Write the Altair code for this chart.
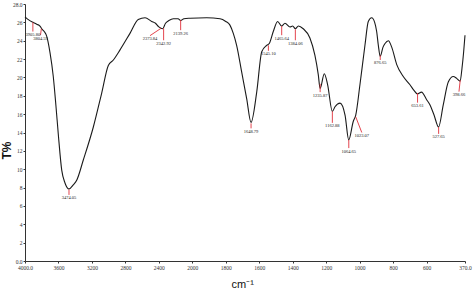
import altair as alt
import pandas as pd

# ---- spectrum (wavenumber cm-1, T%) ----
wavenumber = [4000, 3960, 3905, 3860, 3821, 3800, 3770, 3741, 3701, 3662, 3631, 3600,
              3561, 3522, 3474, 3423, 3382, 3303, 3183, 3083, 3004, 2944, 2864, 2745,
              2646, 2565, 2485, 2440, 2400, 2354, 2320, 2280, 2227, 2170, 2139, 2100,
              2027, 1914, 1834, 1800, 1775, 1755, 1735, 1705, 1675, 1649, 1615, 1585,
              1555, 1540, 1516, 1490, 1466, 1446, 1416, 1400, 1384, 1366, 1337, 1297,
              1267, 1247, 1236, 1211, 1191, 1163, 1147, 1117, 1087, 1065, 1038, 1023,
              998, 968, 948, 928, 910, 898, 888, 877, 860, 848, 828, 808, 778, 739,
              699, 675, 654, 630, 600, 579, 555, 528, 500, 470, 440, 420, 399, 388,
              378, 370]
transmittance = [26.6, 26.3, 26.0, 25.8, 25.6, 25.3, 25.0, 24.5, 22.7, 20.1, 17.0, 13.6,
                 9.9, 8.5, 7.85, 8.3, 8.8, 11.0, 14.6, 18.3, 21.3, 21.9, 23.0, 24.8,
                 26.3, 26.5, 26.1, 25.9, 25.5, 25.3, 25.9, 26.2, 26.4, 26.4, 26.2, 26.4,
                 26.45, 26.5, 26.4, 26.1, 25.7, 24.8, 23.5, 20.6, 17.7, 15.1, 18.4, 22.8,
                 23.5, 23.7, 25.0, 26.1, 25.6, 25.9, 25.5, 25.6, 25.3, 25.6, 25.3, 24.3,
                 22.4, 20.3, 18.8, 20.4, 19.2, 16.3, 16.8, 17.2, 15.9, 13.2, 15.2, 15.9,
                 19.2, 23.5, 26.1, 26.5, 26.0, 25.0, 23.5, 22.3, 23.3, 23.7, 24.0, 23.3, 21.4, 20.1,
                 19.2, 18.6, 18.2, 18.4, 17.6, 17.0, 15.9, 14.6, 17.0, 19.5, 20.1, 19.9, 19.6, 21.0,
                 22.8, 24.6]

# ---- peak annotations ----
peak_text = ["3905.80", "3804.59", "3474.05", "2373.84", "2342.92", "2139.26",
             "1648.79", "1545.10", "1465.64", "1384.06", "1235.87", "1162.88",
             "1064.65", "1023.07", "876.65", "653.61", "527.65", "398.66"]
peak_wn = [3905.80, 3804.59, 3474.05, 2373.84, 2342.92, 2139.26,
           1648.79, 1545.10, 1465.64, 1384.06, 1235.87, 1162.88,
           1064.65, 1023.07, 876.65, 653.61, 527.65, 398.66]
peak_T = [26.0, 25.3, 7.8, 25.35, 25.35, 26.25,
          15.0, 23.5, 25.6, 25.25, 19.3, 16.3,
          13.2, 15.7, 22.4, 18.3, 14.6, 19.7]
label_wn = [3905.80, 3815, 3474.05, 2506, 2342.92, 2139.26,
            1648.79, 1545.10, 1465.64, 1384.06, 1235.87, 1162.88,
            1064.65, 987, 876.65, 653.61, 527.65, 406]
label_T = [25.0, 24.6, 7.2, 24.55, 24.05, 25.15,
           14.45, 22.9, 24.6, 24.05, 18.4, 15.05,
           12.3, 14.0, 21.9, 17.25, 13.85, 18.45]

# ---- axis ticks ----
tick_wn = [4000, 3600, 3200, 2800, 2400, 2000, 1800, 1600, 1400, 1200, 1000, 800, 600, 370]
y_ticks = list(range(0, 29, 2))

spec = pd.DataFrame({"wn": wavenumber, "T": transmittance})
peaks = pd.DataFrame({"label": peak_text, "wn": peak_wn, "T": peak_T,
                      "lwn": label_wn, "lT": label_T})

# piecewise axis: 4000-2000 at half scale, 2000-370 at full scale
def pos_expr(f):
    return f"{f} >= 2000 ? (4000 - {f}) / 2 : 1000 + (2000 - {f})"

def to_pos(w):
    return (4000 - w) / 2 if w >= 2000 else 1000 + (2000 - w)

tick_pos = [to_pos(w) for w in tick_wn]
x_end = to_pos(370)

xs = alt.Scale(domain=[0, x_end], nice=False, zero=False)
ys = alt.Scale(domain=[0, 28], nice=False, zero=True)

x_axis = alt.Axis(
    values=tick_pos,
    labelExpr=("datum.value == 0 ? '4000.0' : datum.value == %g ? '370.0' : "
               "datum.value <= 1000 ? toString(4000 - 2 * datum.value) : "
               "toString(3000 - datum.value)") % x_end,
    grid=False, tickSize=2, tickColor="#333", domainColor="#333",
    labelFont="Liberation Serif", labelFontSize=5.5, labelColor="#333",
    labelPadding=2, labelOverlap=False, labelFlush=False,
    title="cm⁻¹", titleFont="Liberation Sans", titleFontSize=11,
    titleFontWeight="normal", titleColor="#111",
    titleX=206, titleY=26, titleBaseline="alphabetic", titleAnchor="start",
)
y_axis = alt.Axis(
    values=y_ticks,
    labelExpr="datum.value == 0 ? '0.0' : datum.value == 28 ? '28.0' : datum.label",
    grid=False, tickSize=2, tickColor="#333", domainColor="#333",
    labelFont="Liberation Serif", labelFontSize=5.5, labelColor="#333",
    labelPadding=1, labelOverlap=False, labelFlush=False,
    title="T%", titleFont="Liberation Sans", titleFontSize=12,
    titleFontWeight="bold", titleColor="#111",
    titleX=-19, titleY=146, titleBaseline="middle", titleAlign="center",
)

line = alt.Chart(spec).transform_calculate(
    pos=pos_expr("datum.wn")
).mark_line(color="#1a1a1a", strokeWidth=1.1, interpolate="monotone").encode(
    x=alt.X("pos:Q", scale=xs, axis=x_axis),
    y=alt.Y("T:Q", scale=ys, axis=y_axis),
)

rules = alt.Chart(peaks).transform_calculate(
    pos=pos_expr("datum.wn"), pos2=pos_expr("datum.lwn")
).mark_rule(color="#e0303a", strokeWidth=0.9).encode(
    x=alt.X("pos:Q", scale=xs, axis=x_axis), x2="pos2:Q",
    y=alt.Y("T:Q", scale=ys, axis=y_axis), y2="lT:Q",
)

texts = alt.Chart(peaks).transform_calculate(
    pos=pos_expr("datum.lwn")
).mark_text(font="Liberation Serif", fontSize=4.5, baseline="top", dy=0.5,
            color="#222").encode(
    x=alt.X("pos:Q", scale=xs, axis=x_axis),
    y=alt.Y("lT:Q", scale=ys, axis=y_axis),
    text="label:N",
)

chart = alt.layer(line, rules, texts).properties(
    width=440, height=257,
    autosize=alt.AutoSizeParams(type="none"),
    padding={"left": 25, "top": 4, "right": 9, "bottom": 28},
    background="white",
).configure_view(stroke=None)

chart.save("out.html", embed_options={"renderer": "svg", "actions": False})
